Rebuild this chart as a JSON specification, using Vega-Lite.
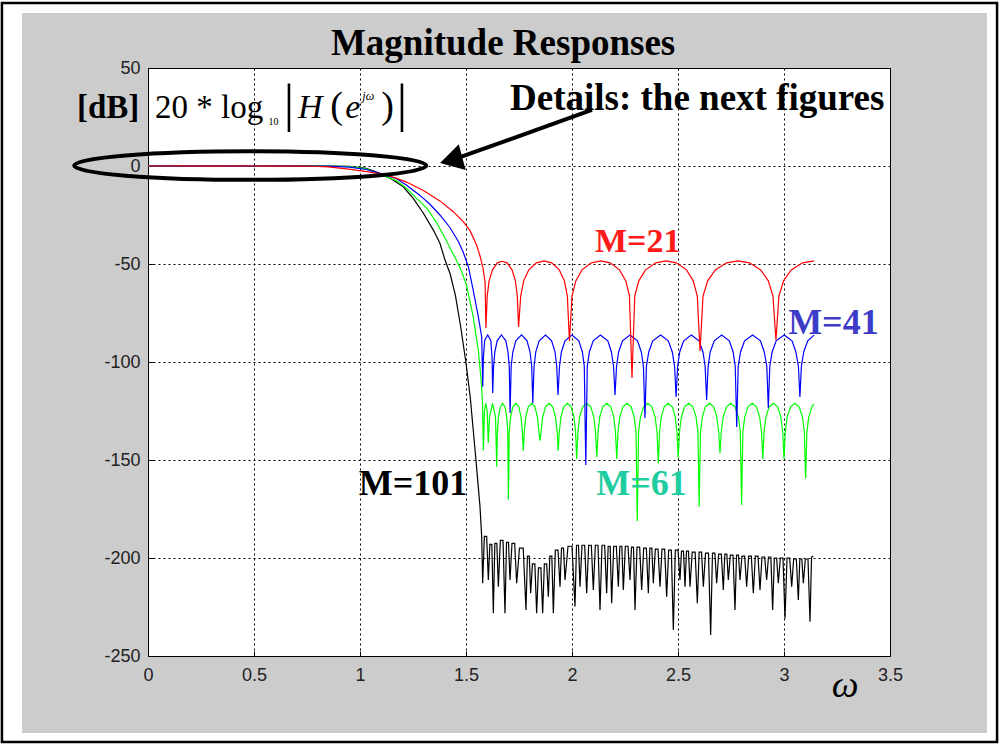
{
"$schema": "https://vega.github.io/schema/vega-lite/v6.json",
"width": 742, "height": 588,
"autosize": {"type": "none"},
"padding": {"left": 148, "top": 68, "right": 112, "bottom": 88},
"background": "#cccccc",
"config": {"view": {"stroke": "black", "strokeWidth": 1, "fill": "white"}},
"data": {"values": [{}]},
"datasets": {
"r": [{"w":0,"db":0},{"w":0.15,"db":0.05},{"w":0.3,"db":-0.03},{"w":0.45,"db":0.04},{"w":0.6,"db":-0.03},{"w":0.75,"db":0},{"w":0.85,"db":-0.4},{"w":0.937,"db":-1.5},{"w":1.032,"db":-2.9},{"w":1.126,"db":-4.6},{"w":1.173,"db":-6.3},{"w":1.22,"db":-8.2},{"w":1.299,"db":-12.5},{"w":1.377,"db":-17.8},{"w":1.44,"db":-23.3},{"w":1.487,"db":-28.4},{"w":1.519,"db":-33},{"w":1.55,"db":-40.3},{"w":1.566,"db":-45.9},{"w":1.58,"db":-52},{"w":1.59,"db":-59.2},
{"w":1.594,"db":-82.7},{"w":1.6,"db":-66.4},{"w":1.609,"db":-58.6},{"w":1.625,"db":-53},{"w":1.648,"db":-49.4},{"w":1.671,"db":-48.6},{"w":1.694,"db":-49.4},{"w":1.717,"db":-53},{"w":1.733,"db":-58.6},{"w":1.742,"db":-66.4},
{"w":1.748,"db":-82.1},{"w":1.758,"db":-66.4},{"w":1.772,"db":-58.6},{"w":1.796,"db":-53},{"w":1.832,"db":-49.4},{"w":1.868,"db":-48.4},{"w":1.904,"db":-49.4},{"w":1.94,"db":-53},{"w":1.964,"db":-58.6},{"w":1.978,"db":-66.4},
{"w":1.988,"db":-89.3},{"w":2.0,"db":-66.4},{"w":2.018,"db":-58.6},{"w":2.047,"db":-53},{"w":2.091,"db":-49.4},{"w":2.136,"db":-48.4},{"w":2.18,"db":-49.4},{"w":2.224,"db":-53},{"w":2.254,"db":-58.6},{"w":2.271,"db":-66.4},
{"w":2.283,"db":-108.2},{"w":2.296,"db":-66.4},{"w":2.315,"db":-58.6},{"w":2.347,"db":-53},{"w":2.395,"db":-49.4},{"w":2.444,"db":-48.4},{"w":2.492,"db":-49.4},{"w":2.54,"db":-53},{"w":2.572,"db":-58.6},{"w":2.591,"db":-66.4},
{"w":2.604,"db":-94.4},{"w":2.618,"db":-66.4},{"w":2.64,"db":-58.6},{"w":2.676,"db":-53},{"w":2.729,"db":-49.4},{"w":2.783,"db":-48.4},{"w":2.837,"db":-49.4},{"w":2.89,"db":-53},{"w":2.926,"db":-58.6},{"w":2.948,"db":-66.4},
{"w":2.962,"db":-88.8},{"w":2.976,"db":-66.4},{"w":2.998,"db":-58.6},{"w":3.034,"db":-53},{"w":3.088,"db":-49.4},{"w":3.1416,"db":-48.4}],
"b": [{"w":0,"db":0},{"w":0.15,"db":-0.04},{"w":0.3,"db":0.04},{"w":0.45,"db":-0.03},{"w":0.6,"db":0.03},{"w":0.75,"db":-0.03},{"w":0.85,"db":-0.1},{"w":0.95,"db":-0.6},{"w":1.03,"db":-1.8},{"w":1.1,"db":-4.0},{"w":1.173,"db":-6.5},{"w":1.22,"db":-9.8},{"w":1.283,"db":-15},{"w":1.33,"db":-19.5},{"w":1.377,"db":-25},{"w":1.425,"db":-31.5},{"w":1.464,"db":-38.5},{"w":1.487,"db":-44},{"w":1.511,"db":-51.4},{"w":1.534,"db":-63.3},{"w":1.558,"db":-76.9},{"w":1.574,"db":-87.1},
{"w":1.579,"db":-112.6},{"w":1.582,"db":-98},{"w":1.588,"db":-89},{"w":1.6025,"db":-86.2},{"w":1.617,"db":-89},{"w":1.623,"db":-98},
{"w":1.626,"db":-115.8},{"w":1.63,"db":-102.3},{"w":1.636,"db":-94.9},{"w":1.647,"db":-89.2},{"w":1.667,"db":-86.2},{"w":1.688,"db":-89.2},{"w":1.698,"db":-94.9},{"w":1.704,"db":-102.3},
{"w":1.708,"db":-126},{"w":1.713,"db":-102.3},{"w":1.721,"db":-94.9},{"w":1.735,"db":-89.2},{"w":1.762,"db":-86.2},{"w":1.788,"db":-89.2},{"w":1.802,"db":-94.9},{"w":1.81,"db":-102.3},
{"w":1.815,"db":-121},{"w":1.821,"db":-102.3},{"w":1.829,"db":-94.9},{"w":1.845,"db":-89.2},{"w":1.875,"db":-86.2},{"w":1.904,"db":-89.2},{"w":1.92,"db":-94.9},{"w":1.928,"db":-102.3},
{"w":1.934,"db":-116.8},{"w":1.941,"db":-102.3},{"w":1.95,"db":-94.9},{"w":1.967,"db":-89.2},{"w":2.0,"db":-86.2},{"w":2.032,"db":-89.2},{"w":2.049,"db":-94.9},{"w":2.058,"db":-102.3},
{"w":2.065,"db":-152.6},{"w":2.072,"db":-102.3},{"w":2.082,"db":-94.9},{"w":2.1,"db":-89.2},{"w":2.134,"db":-86.2},{"w":2.169,"db":-89.2},{"w":2.186,"db":-94.9},{"w":2.196,"db":-102.3},
{"w":2.203,"db":-116.8},{"w":2.21,"db":-102.3},{"w":2.22,"db":-94.9},{"w":2.238,"db":-89.2},{"w":2.274,"db":-86.2},{"w":2.309,"db":-89.2},{"w":2.327,"db":-94.9},{"w":2.337,"db":-102.3},
{"w":2.344,"db":-128.6},{"w":2.351,"db":-102.3},{"w":2.362,"db":-94.9},{"w":2.381,"db":-89.2},{"w":2.418,"db":-86.2},{"w":2.454,"db":-89.2},{"w":2.473,"db":-94.9},{"w":2.484,"db":-102.3},
{"w":2.491,"db":-117.9},{"w":2.498,"db":-102.3},{"w":2.508,"db":-94.9},{"w":2.527,"db":-89.2},{"w":2.563,"db":-86.2},{"w":2.599,"db":-89.2},{"w":2.618,"db":-94.9},{"w":2.628,"db":-102.3},
{"w":2.635,"db":-119.4},{"w":2.642,"db":-102.3},{"w":2.652,"db":-94.9},{"w":2.671,"db":-89.2},{"w":2.706,"db":-86.2},{"w":2.742,"db":-89.2},{"w":2.76,"db":-94.9},{"w":2.77,"db":-102.3},
{"w":2.777,"db":-133.2},{"w":2.784,"db":-102.3},{"w":2.795,"db":-94.9},{"w":2.814,"db":-89.2},{"w":2.852,"db":-86.2},{"w":2.889,"db":-89.2},{"w":2.907,"db":-94.9},{"w":2.919,"db":-102.3},
{"w":2.926,"db":-123.5},{"w":2.933,"db":-102.3},{"w":2.944,"db":-94.9},{"w":2.963,"db":-89.2},{"w":3.001,"db":-86.2},{"w":3.038,"db":-89.2},{"w":3.056,"db":-94.9},{"w":3.068,"db":-102.3},
{"w":3.075,"db":-117.9},{"w":3.082,"db":-102.3},{"w":3.093,"db":-94.9},{"w":3.112,"db":-89.2},{"w":3.1416,"db":-86.3}],
"g": [{"w":0,"db":0},{"w":0.15,"db":0.03},{"w":0.3,"db":-0.04},{"w":0.45,"db":0.03},{"w":0.6,"db":-0.04},{"w":0.75,"db":0.03},{"w":0.85,"db":-0.05},{"w":0.95,"db":-0.3},{"w":1.03,"db":-1.5},{"w":1.1,"db":-4.5},{"w":1.173,"db":-7.5},{"w":1.22,"db":-11.4},{"w":1.267,"db":-16.5},{"w":1.315,"db":-21.5},{"w":1.362,"db":-29},{"w":1.409,"db":-38.5},{"w":1.45,"db":-47},{"w":1.48,"db":-54},{"w":1.503,"db":-61},{"w":1.534,"db":-77},{"w":1.558,"db":-94},{"w":1.572,"db":-110},{"w":1.578,"db":-121},
{"w":1.582,"db":-145},{"w":1.587,"db":-125},{"w":1.5935,"db":-121.1},{"w":1.6,"db":-125},
{"w":1.605,"db":-141.3},{"w":1.611,"db":-128},{"w":1.625,"db":-121.1},{"w":1.639,"db":-128},
{"w":1.645,"db":-153.4},{"w":1.648,"db":-135.7},{"w":1.653,"db":-128},{"w":1.662,"db":-122.9},{"w":1.6725,"db":-121.1},{"w":1.684,"db":-122.9},{"w":1.692,"db":-128},{"w":1.697,"db":-135.7},
{"w":1.7,"db":-170.2},{"w":1.704,"db":-135.7},{"w":1.7105,"db":-128},{"w":1.721,"db":-122.9},{"w":1.735,"db":-121.1},{"w":1.749,"db":-122.9},{"w":1.7595,"db":-128},{"w":1.766,"db":-135.7},
{"w":1.77,"db":-145.2},{"w":1.775,"db":-135.7},{"w":1.782,"db":-128},{"w":1.794,"db":-122.9},{"w":1.8095,"db":-121.1},{"w":1.825,"db":-122.9},{"w":1.837,"db":-128},{"w":1.844,"db":-135.7},
{"w":1.849,"db":-140.1},{"w":1.854,"db":-135.7},{"w":1.862,"db":-128},{"w":1.875,"db":-122.9},{"w":1.892,"db":-121.1},{"w":1.909,"db":-122.9},{"w":1.922,"db":-128},{"w":1.93,"db":-135.7},
{"w":1.935,"db":-145.2},{"w":1.94,"db":-135.7},{"w":1.948,"db":-128},{"w":1.961,"db":-122.9},{"w":1.9785,"db":-121.1},{"w":1.996,"db":-122.9},{"w":2.009,"db":-128},{"w":2.017,"db":-135.7},
{"w":2.022,"db":-149.5},{"w":2.028,"db":-135.7},{"w":2.036,"db":-128},{"w":2.0505,"db":-122.9},{"w":2.0695,"db":-121.1},{"w":2.0885,"db":-122.9},{"w":2.103,"db":-128},{"w":2.111,"db":-135.7},
{"w":2.117,"db":-148.6},{"w":2.123,"db":-135.7},{"w":2.131,"db":-128},{"w":2.145,"db":-122.9},{"w":2.164,"db":-121.1},{"w":2.183,"db":-122.9},{"w":2.197,"db":-128},{"w":2.205,"db":-135.7},
{"w":2.211,"db":-149.5},{"w":2.217,"db":-135.7},{"w":2.2255,"db":-128},{"w":2.24,"db":-122.9},{"w":2.2595,"db":-121.1},{"w":2.279,"db":-122.9},{"w":2.293,"db":-128},{"w":2.302,"db":-135.7},
{"w":2.308,"db":-181.2},{"w":2.314,"db":-135.7},{"w":2.323,"db":-128},{"w":2.338,"db":-122.9},{"w":2.3575,"db":-121.1},{"w":2.377,"db":-122.9},{"w":2.392,"db":-128},{"w":2.401,"db":-135.7},
{"w":2.407,"db":-151.7},{"w":2.413,"db":-135.7},{"w":2.421,"db":-128},{"w":2.435,"db":-122.9},{"w":2.454,"db":-121.1},{"w":2.473,"db":-122.9},{"w":2.487,"db":-128},{"w":2.495,"db":-135.7},
{"w":2.501,"db":-149.1},{"w":2.507,"db":-135.7},{"w":2.516,"db":-128},{"w":2.531,"db":-122.9},{"w":2.5505,"db":-121.1},{"w":2.57,"db":-122.9},{"w":2.585,"db":-128},{"w":2.594,"db":-135.7},
{"w":2.6,"db":-173.8},{"w":2.606,"db":-135.7},{"w":2.615,"db":-128},{"w":2.629,"db":-122.9},{"w":2.649,"db":-121.1},{"w":2.669,"db":-122.9},{"w":2.683,"db":-128},{"w":2.692,"db":-135.7},
{"w":2.698,"db":-146.6},{"w":2.704,"db":-135.7},{"w":2.713,"db":-128},{"w":2.729,"db":-122.9},{"w":2.749,"db":-121.1},{"w":2.769,"db":-122.9},{"w":2.785,"db":-128},{"w":2.794,"db":-135.7},
{"w":2.8,"db":-173.0},{"w":2.806,"db":-135.7},{"w":2.815,"db":-128},{"w":2.83,"db":-122.9},{"w":2.85,"db":-121.1},{"w":2.87,"db":-122.9},{"w":2.885,"db":-128},{"w":2.894,"db":-135.7},
{"w":2.9,"db":-149.5},{"w":2.906,"db":-135.7},{"w":2.915,"db":-128},{"w":2.93,"db":-122.9},{"w":2.95,"db":-121.1},{"w":2.97,"db":-122.9},{"w":2.985,"db":-128},{"w":2.994,"db":-135.7},
{"w":3.0,"db":-149.5},{"w":3.006,"db":-135.7},{"w":3.015,"db":-128},{"w":3.031,"db":-122.9},{"w":3.051,"db":-121.1},{"w":3.071,"db":-122.9},{"w":3.087,"db":-128},{"w":3.096,"db":-135.7},
{"w":3.102,"db":-159.3},{"w":3.108,"db":-135.7},{"w":3.117,"db":-128},{"w":3.132,"db":-122.9},{"w":3.1416,"db":-121.5}],
"k": [{"w":0,"db":0},{"w":0.15,"db":0.02},{"w":0.3,"db":-0.02},{"w":0.45,"db":0.02},{"w":0.6,"db":-0.02},{"w":0.75,"db":0.02},{"w":0.85,"db":0},{"w":0.95,"db":-0.2},{"w":1.03,"db":-1.2},{"w":1.1,"db":-4},{"w":1.15,"db":-6.8},{"w":1.204,"db":-10.6},{"w":1.251,"db":-16.5},{"w":1.299,"db":-24.1},{"w":1.346,"db":-32.7},{"w":1.377,"db":-39.4},{"w":1.401,"db":-48},{"w":1.425,"db":-55},{"w":1.45,"db":-66},{"w":1.475,"db":-82},{"w":1.5,"db":-100.5},{"w":1.52,"db":-118},{"w":1.547,"db":-150},{"w":1.566,"db":-173.8},{"w":1.574,"db":-189.1},
{"w":1.5786,"db":-212.9},{"w":1.5866,"db":-189},{"w":1.5974,"db":-189},
{"w":1.6054,"db":-211.2},{"w":1.6125,"db":-193},{"w":1.6219,"db":-193},
{"w":1.6289,"db":-228.2},{"w":1.636,"db":-192.5},{"w":1.6454,"db":-192.5},
{"w":1.6525,"db":-214.6},{"w":1.662,"db":-191},{"w":1.6746,"db":-191},
{"w":1.684,"db":-228.2},{"w":1.6911,"db":-192},{"w":1.7005,"db":-192},
{"w":1.7075,"db":-211.2},{"w":1.717,"db":-192.5},{"w":1.7296,"db":-192.5},
{"w":1.739,"db":-212.9},{"w":1.7522,"db":-195},{"w":1.7698,"db":-195},
{"w":1.783,"db":-226.5},{"w":1.7896,"db":-199},{"w":1.7984,"db":-199},
{"w":1.805,"db":-218},{"w":1.8135,"db":-203},{"w":1.8248,"db":-203},
{"w":1.8333,"db":-228.2},{"w":1.8418,"db":-205},{"w":1.8531,"db":-205},
{"w":1.8616,"db":-228.2},{"w":1.8696,"db":-203},{"w":1.8804,"db":-203},
{"w":1.8884,"db":-219.7},{"w":1.8955,"db":-199},{"w":1.9049,"db":-199},
{"w":1.912,"db":-228.2},{"w":1.9214,"db":-196},{"w":1.934,"db":-196},
{"w":1.9434,"db":-214.6},{"w":1.9505,"db":-195},{"w":1.9599,"db":-195},
{"w":1.967,"db":-211.2},{"w":1.9812,"db":-194},{"w":2.0,"db":-194},
{"w":2.0142,"db":-224.8},{"w":2.0213,"db":-193.5},{"w":2.0307,"db":-193.5},
{"w":2.0377,"db":-214.6},{"w":2.0472,"db":-193.5},{"w":2.0598,"db":-193.5},
{"w":2.0692,"db":-218},{"w":2.0786,"db":-193.5},{"w":2.0912,"db":-193.5},
{"w":2.1006,"db":-216.3},{"w":2.1101,"db":-193.5},{"w":2.1227,"db":-193.5},
{"w":2.1321,"db":-226.5},{"w":2.1415,"db":-193.5},{"w":2.1541,"db":-193.5},
{"w":2.1635,"db":-218},{"w":2.1706,"db":-194},{"w":2.18,"db":-194},
{"w":2.1871,"db":-223.1},{"w":2.1966,"db":-194},{"w":2.2092,"db":-194},
{"w":2.2186,"db":-214.6},{"w":2.2257,"db":-194},{"w":2.2351,"db":-194},
{"w":2.2421,"db":-216.3},{"w":2.2516,"db":-194},{"w":2.2642,"db":-194},
{"w":2.2736,"db":-211.2},{"w":2.2807,"db":-194.5},{"w":2.2901,"db":-194.5},
{"w":2.2972,"db":-226.5},{"w":2.3066,"db":-194.5},{"w":2.3192,"db":-194.5},
{"w":2.3286,"db":-216.3},{"w":2.3381,"db":-195},{"w":2.3507,"db":-195},
{"w":2.3601,"db":-218},{"w":2.3672,"db":-195},{"w":2.3766,"db":-195},
{"w":2.3836,"db":-212.9},{"w":2.3931,"db":-195.5},{"w":2.4057,"db":-195.5},
{"w":2.4151,"db":-214.6},{"w":2.4245,"db":-195.5},{"w":2.4371,"db":-195.5},
{"w":2.4465,"db":-219.7},{"w":2.456,"db":-196},{"w":2.4686,"db":-196},
{"w":2.478,"db":-236.7},{"w":2.4874,"db":-196},{"w":2.5,"db":-196},
{"w":2.5094,"db":-211.2},{"w":2.5165,"db":-196.5},{"w":2.5259,"db":-196.5},
{"w":2.533,"db":-214.6},{"w":2.5401,"db":-196.5},{"w":2.5495,"db":-196.5},
{"w":2.5566,"db":-214.6},{"w":2.567,"db":-197},{"w":2.5808,"db":-197},
{"w":2.5912,"db":-223.1},{"w":2.5997,"db":-197},{"w":2.611,"db":-197},
{"w":2.6195,"db":-214.6},{"w":2.6299,"db":-197.5},{"w":2.6437,"db":-197.5},
{"w":2.6541,"db":-239.3},{"w":2.6626,"db":-197.5},{"w":2.6739,"db":-197.5},
{"w":2.6824,"db":-212.9},{"w":2.6918,"db":-198},{"w":2.7044,"db":-198},
{"w":2.7138,"db":-216.3},{"w":2.7209,"db":-198},{"w":2.7303,"db":-198},
{"w":2.7374,"db":-211.2},{"w":2.7469,"db":-198.5},{"w":2.7595,"db":-198.5},
{"w":2.7689,"db":-226.5},{"w":2.776,"db":-198.5},{"w":2.7854,"db":-198.5},
{"w":2.7925,"db":-211.2},{"w":2.8019,"db":-199},{"w":2.8145,"db":-199},
{"w":2.8239,"db":-214.6},{"w":2.8333,"db":-199},{"w":2.8459,"db":-199},
{"w":2.8553,"db":-218},{"w":2.8648,"db":-199},{"w":2.8774,"db":-199},
{"w":2.8868,"db":-216.3},{"w":2.8962,"db":-199.5},{"w":2.9088,"db":-199.5},
{"w":2.9182,"db":-211.2},{"w":2.9267,"db":-199.5},{"w":2.938,"db":-199.5},
{"w":2.9465,"db":-226.5},{"w":2.9545,"db":-200},{"w":2.9653,"db":-200},
{"w":2.9733,"db":-212.9},{"w":2.9827,"db":-200},{"w":2.9953,"db":-200},
{"w":3.0047,"db":-230.8},{"w":3.0142,"db":-200},{"w":3.0268,"db":-200},
{"w":3.0362,"db":-214.6},{"w":3.0456,"db":-200.5},{"w":3.0582,"db":-200.5},
{"w":3.0676,"db":-221.4},{"w":3.0747,"db":-200.5},{"w":3.0841,"db":-200.5},
{"w":3.0912,"db":-212.9},{"w":3.1006,"db":-200.5},{"w":3.1132,"db":-200.5},
{"w":3.1226,"db":-232.5},{"w":3.13,"db":-199.5},{"w":3.1384,"db":-199}]
},
"layer": [
{"data": {"name": "k"}, "mark": {"type": "line", "color": "black", "strokeWidth": 1.2},
 "encoding": {
  "x": {"field": "w", "type": "quantitative", "scale": {"domain": [0, 3.5], "nice": false, "zero": false},
   "axis": {"values": [0, 0.5, 1, 1.5, 2, 2.5, 3, 3.5], "title": null, "grid": true, "gridColor": "black", "gridDash": [2, 3], "gridOpacity": 1, "gridWidth": 1, "domain": false, "ticks": true, "tickSize": -5, "tickColor": "black", "tickWidth": 1, "labelFont": "Liberation Sans", "labelFontSize": 18, "labelColor": "#222222", "labelPadding": 15, "labelOverlap": false, "labelFlush": false, "labelExpr": "'' + datum.value"}},
  "y": {"field": "db", "type": "quantitative", "scale": {"domain": [-250, 50], "nice": false, "zero": false},
   "axis": {"values": [-250, -200, -150, -100, -50, 0, 50], "title": null, "grid": true, "gridColor": "black", "gridDash": [2, 3], "gridOpacity": 1, "gridWidth": 1, "domain": false, "ticks": true, "tickSize": -5, "tickColor": "black", "tickWidth": 1, "labelFont": "Liberation Sans", "labelFontSize": 18, "labelColor": "#222222", "labelPadding": 13, "labelOverlap": false, "labelFlush": false, "labelExpr": "'' + datum.value"}}
 }},
{"data": {"name": "g"}, "mark": {"type": "line", "color": "#00ff00", "strokeWidth": 1.2},
 "encoding": {"x": {"field": "w", "type": "quantitative"}, "y": {"field": "db", "type": "quantitative"}}},
{"data": {"name": "b"}, "mark": {"type": "line", "color": "#0000ff", "strokeWidth": 1.2},
 "encoding": {"x": {"field": "w", "type": "quantitative"}, "y": {"field": "db", "type": "quantitative"}}},
{"data": {"name": "r"}, "mark": {"type": "line", "color": "#ff0000", "strokeWidth": 1.2},
 "encoding": {"x": {"field": "w", "type": "quantitative"}, "y": {"field": "db", "type": "quantitative"}}},
{"mark": {"type": "text", "text": "Magnitude Responses", "font": "Liberation Serif", "fontSize": 37, "fontWeight": "bold", "align": "center", "baseline": "alphabetic", "color": "black"},
 "encoding": {"x": {"datum": 1.675, "type": "quantitative"}, "y": {"datum": 56.6, "type": "quantitative"}}},
{"mark": {"type": "text", "text": "[dB]", "font": "Liberation Serif", "fontSize": 33, "fontWeight": "bold", "align": "left", "baseline": "alphabetic", "color": "black"},
 "encoding": {"x": {"datum": -0.335, "type": "quantitative"}, "y": {"datum": 24.5, "type": "quantitative"}}},
{"mark": {"type": "text", "text": "20 * log", "font": "Liberation Serif", "fontSize": 33, "align": "left", "baseline": "alphabetic", "color": "black"},
 "encoding": {"x": {"datum": 0.033, "type": "quantitative"}, "y": {"datum": 24.5, "type": "quantitative"}}},
{"mark": {"type": "text", "text": "10", "font": "Liberation Serif", "fontSize": 10, "align": "left", "baseline": "alphabetic", "color": "black"},
 "encoding": {"x": {"datum": 0.568, "type": "quantitative"}, "y": {"datum": 20.9, "type": "quantitative"}}},
{"mark": {"type": "text", "text": "|", "font": "Liberation Serif", "fontSize": 52, "align": "center", "baseline": "alphabetic", "color": "black"},
 "encoding": {"x": {"datum": 0.665, "type": "quantitative"}, "y": {"datum": 23, "type": "quantitative"}}},
{"mark": {"type": "text", "text": "H", "font": "Liberation Serif", "fontSize": 34, "fontStyle": "italic", "align": "left", "baseline": "alphabetic", "color": "black"},
 "encoding": {"x": {"datum": 0.708, "type": "quantitative"}, "y": {"datum": 24.5, "type": "quantitative"}}},
{"mark": {"type": "text", "text": "(", "font": "Liberation Serif", "fontSize": 38, "align": "left", "baseline": "alphabetic", "color": "black"},
 "encoding": {"x": {"datum": 0.86, "type": "quantitative"}, "y": {"datum": 24.5, "type": "quantitative"}}},
{"mark": {"type": "text", "text": "e", "font": "Liberation Serif", "fontSize": 34, "fontStyle": "italic", "align": "left", "baseline": "alphabetic", "color": "black"},
 "encoding": {"x": {"datum": 0.931, "type": "quantitative"}, "y": {"datum": 24.5, "type": "quantitative"}}},
{"mark": {"type": "text", "text": "jω", "font": "Liberation Serif", "fontSize": 12, "fontStyle": "italic", "align": "left", "baseline": "alphabetic", "color": "black"},
 "encoding": {"x": {"datum": 1.011, "type": "quantitative"}, "y": {"datum": 33.7, "type": "quantitative"}}},
{"mark": {"type": "text", "text": ")", "font": "Liberation Serif", "fontSize": 38, "align": "left", "baseline": "alphabetic", "color": "black"},
 "encoding": {"x": {"datum": 1.1, "type": "quantitative"}, "y": {"datum": 24.5, "type": "quantitative"}}},
{"mark": {"type": "text", "text": "|", "font": "Liberation Serif", "fontSize": 52, "align": "center", "baseline": "alphabetic", "color": "black"},
 "encoding": {"x": {"datum": 1.198, "type": "quantitative"}, "y": {"datum": 23, "type": "quantitative"}}},
{"mark": {"type": "text", "text": "Details: the next figures", "font": "Liberation Serif", "fontSize": 37, "fontWeight": "bold", "align": "left", "baseline": "alphabetic", "color": "black"},
 "encoding": {"x": {"datum": 1.7075, "type": "quantitative"}, "y": {"datum": 28.6, "type": "quantitative"}}},
{"mark": {"type": "text", "text": "M=21", "font": "Liberation Serif", "fontSize": 34, "fontWeight": "bold", "align": "center", "baseline": "alphabetic", "color": "#ff1a1a"},
 "encoding": {"x": {"datum": 2.31, "type": "quantitative"}, "y": {"datum": -43.9, "type": "quantitative"}}},
{"mark": {"type": "text", "text": "M=41", "font": "Liberation Serif", "fontSize": 36, "fontWeight": "bold", "align": "center", "baseline": "alphabetic", "color": "#3c3cc8"},
 "encoding": {"x": {"datum": 3.233, "type": "quantitative"}, "y": {"datum": -85.7, "type": "quantitative"}}},
{"mark": {"type": "text", "text": "M=61", "font": "Liberation Serif", "fontSize": 36, "fontWeight": "bold", "align": "center", "baseline": "alphabetic", "color": "#1fcc9f"},
 "encoding": {"x": {"datum": 2.328, "type": "quantitative"}, "y": {"datum": -167.9, "type": "quantitative"}}},
{"mark": {"type": "text", "text": "M=101", "font": "Liberation Serif", "fontSize": 36, "fontWeight": "bold", "align": "center", "baseline": "alphabetic", "color": "black"},
 "encoding": {"x": {"datum": 1.25, "type": "quantitative"}, "y": {"datum": -167.9, "type": "quantitative"}}},
{"mark": {"type": "text", "text": "ω", "font": "Liberation Serif", "fontSize": 38, "fontStyle": "italic", "align": "center", "baseline": "alphabetic", "color": "black"},
 "encoding": {"x": {"datum": 3.288, "type": "quantitative"}, "y": {"datum": -270.9, "type": "quantitative"}}},
{"mark": {"type": "point", "shape": "M -1 0 A 1 0.081 0 1 1 1 0 A 1 0.081 0 1 1 -1 0 Z", "size": 124000, "filled": false, "stroke": "black", "strokeWidth": 4, "opacity": 1},
 "encoding": {"x": {"datum": 0.4821, "type": "quantitative"}, "y": {"datum": 0.2, "type": "quantitative"}}},
{"mark": {"type": "rule", "color": "black", "strokeWidth": 4},
 "encoding": {"x": {"datum": 2.094, "type": "quantitative"}, "y": {"datum": 28.6, "type": "quantitative"}, "x2": {"datum": 1.462}, "y2": {"datum": 4.1}}},
{"mark": {"type": "point", "shape": "triangle-left", "size": 700, "filled": true, "color": "black", "opacity": 1, "angle": 344.9},
 "encoding": {"x": {"datum": 1.43, "type": "quantitative"}, "y": {"datum": 3.0, "type": "quantitative"}}},
{"mark": {"type": "rect", "filled": false, "stroke": "white", "strokeWidth": 24},
 "encoding": {"x": {"datum": -0.651, "type": "quantitative"}, "x2": {"datum": 4.014}, "y": {"datum": 84.18, "type": "quantitative"}, "y2": {"datum": -295.4}}},
{"mark": {"type": "rect", "filled": false, "stroke": "black", "strokeWidth": 2.5},
 "encoding": {"x": {"datum": -0.689, "type": "quantitative"}, "x2": {"datum": 4.005}, "y": {"datum": 83.16, "type": "quantitative"}, "y2": {"datum": -293.9}}}
]
}
